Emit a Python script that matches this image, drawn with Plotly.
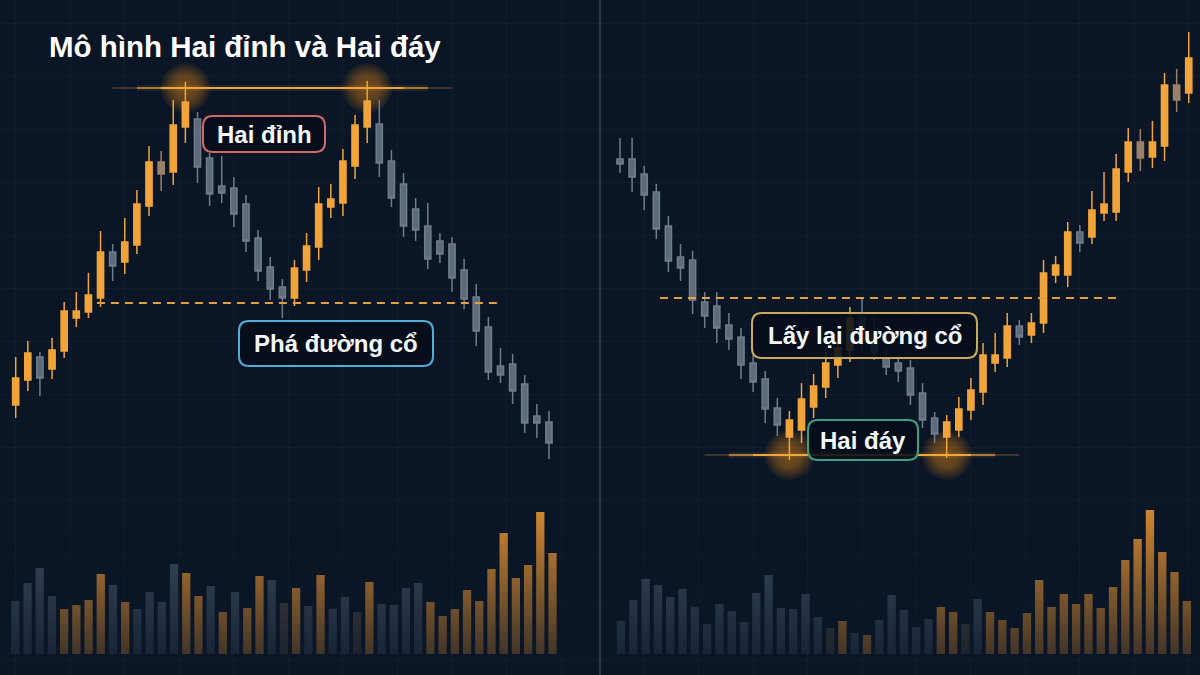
import plotly.graph_objects as go

W, H = 1200, 675
BG = '#0a1526'
TITLE = "Mô hình Hai đỉnh và Hai đáy"

# ---------------- Left panel: double top ----------------
L_open  = [95,120,143,131,149,182,188,202,248,238,255,294,338,328,373,381,342,314,312,296,262,233,213,202,230,253,293,297,334,373,376,339,316,291,274,259,256,230,203,173,134,136,116,84,78]
L_high  = [143,159,148,162,198,208,227,269,256,282,310,354,349,400,418,388,347,344,323,305,270,243,221,240,267,313,316,351,385,419,400,350,327,302,297,267,263,241,216,183,152,146,125,96,89]
L_low   = [82,109,104,121,142,173,182,193,219,226,246,284,309,315,357,317,294,297,273,248,219,200,182,194,218,240,282,284,321,357,323,293,263,259,231,237,208,191,154,120,117,96,67,62,41]
L_close = [122,147,122,150,189,189,205,248,234,258,296,338,326,375,398,333,306,307,286,259,229,211,202,232,254,296,301,339,375,399,337,302,274,270,241,246,222,201,169,128,125,109,77,77,57]
L_tan = [12]
L_vol = [53,71,86,58,45,49,54,80,69,52,45,62,52,90,81,58,68,42,62,46,78,74,51,66,48,79,45,57,42,72,50,49,66,71,52,38,45,64,53,85,121,76,89,142,101]
L_vol_kind = list("gggg" "oooo" "g" "o" "gggg" "oo" "g" "o" "g" "oo" "g" "b" "o" "g" "o" "gg" "b" "o" "gggg" "ooooooooooo")
L_peaks = [14, 29]
TOP_LEVEL = 412
L_NECK = 197

# ---------------- Right panel: double bottom ----------------
R_open  = [341,341,326,308,274,243,240,198,194,175,163,137,121,92,63,70,93,113,135,150,182,165,142,137,132,107,82,63,70,90,108,137,142,174,165,177,225,225,268,263,287,288,328,358,343,354,415,407]
R_high  = [362,362,334,316,284,256,249,208,208,187,172,145,129,102,89,117,126,148,167,193,202,182,152,145,140,117,88,85,103,122,157,167,187,180,187,240,244,278,275,309,328,346,372,371,379,427,431,468]
R_low   = [327,308,290,261,228,219,186,172,157,150,121,108,77,64,40,57,82,102,122,138,150,140,125,118,95,72,57,42,63,80,95,128,133,155,157,167,217,213,248,256,279,279,318,329,332,339,388,397]
R_close = [336,323,305,271,239,232,200,184,172,161,135,118,91,75,80,101,114,137,152,182,160,148,133,129,105,80,66,78,91,110,145,145,174,163,177,227,235,268,257,290,296,331,358,342,358,415,400,442]
R_tan = [43, 46]
R_vol = [33,54,75,69,57,65,47,30,50,43,32,61,79,46,45,60,37,26,33,21,19,34,59,44,27,35,47,42,30,55,42,34,26,41,74,47,60,50,60,46,67,94,115,144,102,82,53]
R_vol_kind = list("ggggggggggggggggg" "b" "o" "g" "o" "ggggg" "oo" "b" "g" "ooooooooooooooooo")
R_troughs = [14, 27]
BOTTOM_LEVEL = 45
R_NECK = 202

# ---------------- styles ----------------
ORANGE = '#F0A43A'
GRAY_FILL = '#5E6B7B'
GRAY_LINE = '#6F7C8C'
TAN = '#9A8068'
VOL_COL = {'o': 'rgba(218,140,50,0.95)', 'g': 'rgba(68,84,103,0.9)', 'b': 'rgba(86,78,70,0.9)'}
FONT = 'Liberation Sans, Arial, sans-serif'

# axis ranges (units: candle index / price)
L_XR = [-1.295, 48.21]
R_XR = [-1.653, 47.93]
LV_XR = [-1.253, 47.89]
RV_XR = [-1.707, 47.07]
P_YR = [-175, 500]
V_YR = [-21, 654]

fig = go.Figure()


def add_candles(o, h, l, c, tan, xa, ya):
    n = len(o)
    idx = [i for i in range(n) if i not in tan]
    fig.add_trace(go.Candlestick(
        x=idx, open=[o[i] for i in idx], high=[h[i] for i in idx],
        low=[l[i] for i in idx], close=[c[i] for i in idx],
        increasing=dict(line=dict(color=ORANGE, width=1.5), fillcolor=ORANGE),
        decreasing=dict(line=dict(color=GRAY_LINE, width=1.5), fillcolor=GRAY_FILL),
        whiskerwidth=0, xaxis=xa, yaxis=ya, hoverinfo='skip', showlegend=False))
    fig.add_trace(go.Candlestick(
        x=tan, open=[o[i] for i in tan], high=[h[i] for i in tan],
        low=[l[i] for i in tan], close=[c[i] for i in tan],
        increasing=dict(line=dict(color=TAN, width=1.5), fillcolor=TAN),
        decreasing=dict(line=dict(color=TAN, width=1.5), fillcolor=TAN),
        whiskerwidth=0, xaxis=xa, yaxis=ya, hoverinfo='skip', showlegend=False))


def add_volume(vol, kinds, xa, ya, xr):
    fig.add_trace(go.Bar(
        x=list(range(len(vol))), y=vol,
        marker=dict(color=[VOL_COL[k] for k in kinds], line=dict(width=0)),
        xaxis=xa, yaxis=ya, hoverinfo='skip', showlegend=False))
    top = max(vol)
    fig.add_trace(go.Scatter(
        x=[xr[0], xr[1], xr[1], xr[0], xr[0]], y=[0, 0, top, top, 0],
        mode='lines', line=dict(width=0), fill='toself',
        fillgradient=dict(type='vertical',
                          colorscale=[[0, 'rgba(10,21,38,0.72)'], [1, 'rgba(10,21,38,0)']]),
        xaxis=xa, yaxis=ya, hoverinfo='skip', showlegend=False))


add_candles(L_open, L_high, L_low, L_close, L_tan, 'x', 'y')
add_candles(R_open, R_high, R_low, R_close, R_tan, 'x2', 'y2')
add_volume(L_vol, L_vol_kind, 'x3', 'y3', LV_XR)
add_volume(R_vol, R_vol_kind, 'x4', 'y4', RV_XR)

shapes = []
# divider
shapes.append(dict(type='line', xref='paper', yref='paper', x0=0.5, x1=0.5, y0=0, y1=1,
                   line=dict(color='rgba(110,125,145,0.35)', width=2), layer='above'))


def glow_circle(xref, yref, xc, yc, px_per_x):
    for r in range(25, 5, -2):
        a = 0.07 if r > 12 else 0.04
        shapes.append(dict(type='circle', xref=xref, yref=yref,
                           x0=xc - r / px_per_x, x1=xc + r / px_per_x, y0=yc - r, y1=yc + r,
                           fillcolor=f'rgba(225,140,35,{a})', line=dict(width=0), layer='below'))


def glow_line(xref, yref, xa, xb, y, pad_out, pad_mid):
    segs = [(xa - pad_out, xb + pad_out, 0.22, 2), (xa - pad_mid, xb + pad_mid, 0.55, 2),
            (xa, xb, 0.95, 2), (xa - pad_mid, xb + pad_mid, 0.10, 6)]
    for x0, x1, a, w in segs:
        shapes.append(dict(type='line', xref=xref, yref=yref, x0=x0, x1=x1, y0=y, y1=y,
                           line=dict(color=f'rgba(240,170,60,{a})', width=w), layer='above'))


# left: resistance level with glowing peaks
glow_circle('x', 'y', L_peaks[0], TOP_LEVEL, 12.12)
glow_circle('x', 'y', L_peaks[1], TOP_LEVEL, 12.12)
glow_line('x', 'y', L_peaks[0] - 2, L_peaks[1] + 3, TOP_LEVEL, 4, 2)
# left neckline
shapes.append(dict(type='line', xref='x', yref='y', x0=6.7, x1=40.2, y0=L_NECK, y1=L_NECK,
                   line=dict(color='#E3A043', width=2, dash='8px,6px'), layer='above'))
# right: support level with glowing troughs
glow_circle('x2', 'y2', R_troughs[0], BOTTOM_LEVEL, 12.1)
glow_circle('x2', 'y2', R_troughs[1], BOTTOM_LEVEL, 12.1)
glow_line('x2', 'y2', R_troughs[0] - 3, R_troughs[1] + 2, BOTTOM_LEVEL, 4, 2)
# right neckline
shapes.append(dict(type='line', xref='x2', yref='y2', x0=3.3, x1=41.2, y0=R_NECK, y1=R_NECK,
                   line=dict(color='#E3A043', width=2, dash='8px,6px'), layer='above'))


def X(px):
    return px / W


def Y(py):
    return 1 - py / H


def rrect(x0, y0, x1, y1, r):
    return (f"M {X(x0 + r)},{Y(y0)} L {X(x1 - r)},{Y(y0)} Q {X(x1)},{Y(y0)} {X(x1)},{Y(y0 + r)} "
            f"L {X(x1)},{Y(y1 - r)} Q {X(x1)},{Y(y1)} {X(x1 - r)},{Y(y1)} "
            f"L {X(x0 + r)},{Y(y1)} Q {X(x0)},{Y(y1)} {X(x0)},{Y(y1 - r)} "
            f"L {X(x0)},{Y(y0 + r)} Q {X(x0)},{Y(y0)} {X(x0 + r)},{Y(y0)} Z")


labels = [
    ("Hai đỉnh", (203, 116, 325, 152), '#D06868'),
    ("Phá đường cổ", (239, 321, 433, 366), '#4FAED6'),
    ("Lấy lại đường cổ", (752, 313, 977, 358), '#C9A95C'),
    ("Hai đáy", (808, 420, 918, 460), '#3D9F80'),
]
annotations = []
for text, (x0, y0, x1, y1), col in labels:
    shapes.append(dict(type='path', xref='paper', yref='paper', path=rrect(x0, y0, x1, y1, 10),
                       fillcolor='rgba(6,14,26,0.88)', line=dict(color=col, width=2), layer='above'))
    annotations.append(dict(xref='paper', yref='paper', x=X((x0 + x1) / 2), y=Y((y0 + y1) / 2),
                            text=f"<b>{text}</b>", showarrow=False, xanchor='center', yanchor='middle',
                            font=dict(family=FONT, size=24, color='#F4F6F8')))

annotations.append(dict(xref='paper', yref='paper', x=X(47), y=Y(46), text=f"<b>{TITLE}</b>",
                        showarrow=False, xanchor='left', yanchor='middle',
                        font=dict(family=FONT, size=29.5, color='#FFFFFF')))

GRID = 'rgba(255,255,255,0.03)'
ax_common = dict(showticklabels=False, ticks='', showline=False, zeroline=False, fixedrange=True)

fig.update_layout(
    width=W, height=H, margin=dict(l=0, r=0, t=0, b=0),
    paper_bgcolor=BG, plot_bgcolor='rgba(0,0,0,0)',
    showlegend=False, hovermode=False, dragmode=False,
    boxgap=0.27, bargap=0.32,
    xaxis=dict(domain=[0, 0.5], range=L_XR, anchor='y', showgrid=True, gridcolor=GRID,
               tick0=0, dtick=4.5, rangeslider=dict(visible=False), **ax_common),
    yaxis=dict(domain=[0, 1], range=P_YR, anchor='x', showgrid=True, gridcolor=GRID,
               tick0=0, dtick=53, **ax_common),
    xaxis2=dict(domain=[0.5, 1], range=R_XR, anchor='y2', showgrid=True, gridcolor=GRID,
                tick0=2, dtick=4.5, rangeslider=dict(visible=False), **ax_common),
    yaxis2=dict(domain=[0, 1], range=P_YR, anchor='x2', showgrid=True, gridcolor=GRID,
                tick0=0, dtick=53, **ax_common),
    xaxis3=dict(domain=[0, 0.5], range=LV_XR, anchor='y3', showgrid=False, **ax_common),
    yaxis3=dict(domain=[0, 1], range=V_YR, anchor='x3', showgrid=False, **ax_common),
    xaxis4=dict(domain=[0.5, 1], range=RV_XR, anchor='y4', showgrid=False, **ax_common),
    yaxis4=dict(domain=[0, 1], range=V_YR, anchor='x4', showgrid=False, **ax_common),
    shapes=shapes, annotations=annotations,
)

fig.write_html("out.html", config=dict(displayModeBar=False, staticPlot=True),
               post_script="document.body.style.margin='0';document.body.style.background='%s';" % BG)
